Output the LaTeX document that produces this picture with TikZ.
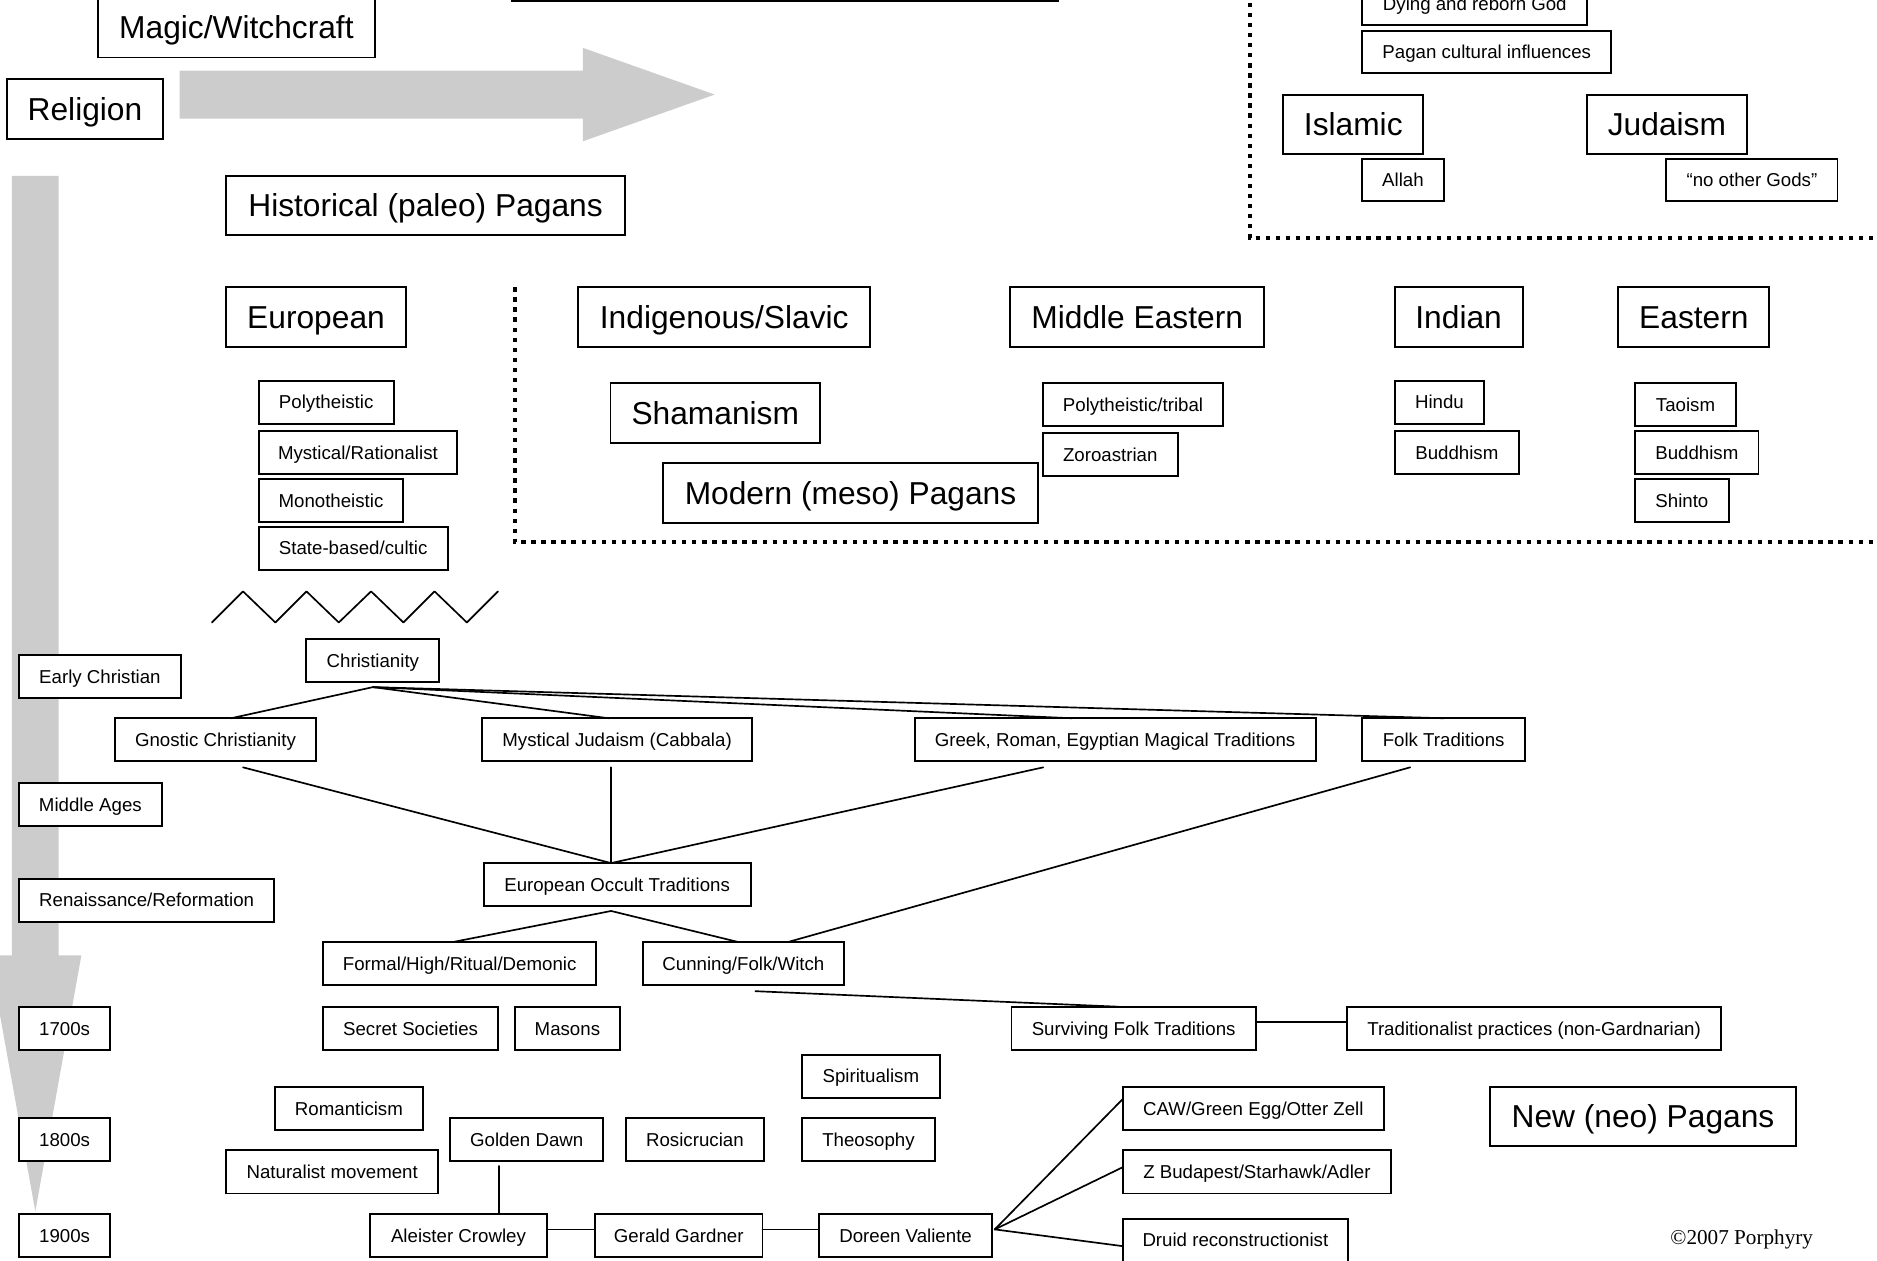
\documentclass[tikz,border=0pt]{standalone}
\usepackage{fontspec}
\setmainfont{Liberation Sans}
\newfontfamily\seriffont{Liberation Serif}
\begin{document}
\begin{tikzpicture}[x=1pt,y=-1pt,
  boxbase/.style={draw, line width=1.6pt, fill=white, inner sep=0pt, outer sep=0pt, align=center, text depth=0pt},
  sb/.style={boxbase, font=\fontsize{15.6}{18}\selectfont, text height=11.2pt},
  bb/.style={boxbase, font=\fontsize{26.5}{30}\selectfont, text height=19pt},
  conn/.style={line width=1.4pt, line cap=round, line join=round},
  dotline/.style={line width=3.6pt, dash pattern=on 3.6pt off 4.8pt},
  grayarrow/.style={fill=black!20, draw=none}]
\newcommand{\bx}[7]{%
  \pgfmathsetmacro{\bxw}{#5-#3}%
  \pgfmathsetmacro{\bxh}{#6-#4}%
  \node[#1, anchor=north west, minimum width=\bxw pt, minimum height=\bxh pt] (#2) at (#3,#4) {#7};}
\useasboundingbox (0,0) rectangle (1568,1053);
% gray arrows
\fill[grayarrow] (150,59) -- (487,59) -- (487,40) -- (597,79) -- (487,118) -- (487,99) -- (150,99) -- cycle;
\fill[grayarrow] (10,147) -- (49,147) -- (49,798) -- (68,798) -- (29.5,1012) -- (-9,798) -- (10,798) -- cycle;
% dotted frames
\draw[dotline] (1044,-6) -- (1044,199) -- (1575,199);
\draw[dotline] (430,240) -- (430,453) -- (1575,453);
% zigzag
\draw[conn] (177,520) -- (203,494) -- (230,520) -- (256,494) -- (283,520) -- (310,494) -- (337,520) -- (363,494) -- (390,520) -- (416,494);
% top rows
\bx{sb}{topbox}{428}{-40}{884}{1}{}
\bx{bb}{magic}{82}{-2}{313}{48}{Magic/Witchcraft}
\bx{bb}{rel}{6}{66}{136}{116}{Religion}
\bx{bb}{hist}{189}{147}{522}{196}{Historical (paleo) Pagans}
\bx{sb}{dying}{1138}{-15}{1326}{21}{Dying and reborn God}
\bx{sb}{pagan}{1138}{26}{1346}{61}{Pagan cultural influences}
\bx{bb}{isl}{1072}{79}{1189}{129}{Islamic}
\bx{bb}{jud}{1326}{79}{1459}{129}{Judaism}
\bx{sb}{allah}{1138}{133}{1206}{168}{Allah}
\bx{sb}{nog}{1392}{133}{1535}{168}{“no other Gods”}
\bx{bb}{euro}{189}{240}{339}{290}{European}
\bx{bb}{indig}{483}{240}{727}{290}{Indigenous/Slavic}
\bx{bb}{mide}{844}{240}{1056}{290}{Middle Eastern}
\bx{bb}{indian}{1165}{240}{1272}{290}{Indian}
\bx{bb}{eastern}{1352}{240}{1478}{290}{Eastern}
\bx{sb}{poly}{216}{318}{329}{354}{Polytheistic}
\bx{sb}{mystr}{216}{360}{382}{396}{Mystical/Rationalist}
\bx{sb}{mono}{216}{400}{337}{436}{Monotheistic}
\bx{sb}{state}{216}{440}{374}{476}{State-based/cultic}
\bx{bb}{sham}{510}{320}{685}{370}{Shamanism}
\bx{bb}{meso}{554}{387}{867}{437}{Modern (meso) Pagans}
\bx{sb}{polyt}{871}{320}{1022}{356}{Polytheistic/tribal}
\bx{sb}{zoro}{871}{362}{984}{398}{Zoroastrian}
\bx{sb}{hindu}{1165}{318}{1240}{354}{Hindu}
\bx{sb}{buddi}{1165}{360}{1269}{396}{Buddhism}
\bx{sb}{tao}{1366}{320}{1450}{356}{Taoism}
\bx{sb}{budde}{1366}{360}{1469}{396}{Buddhism}
\bx{sb}{shinto}{1366}{400}{1444}{436}{Shinto}
% lower part
\bx{sb}{early}{16}{547}{151}{583}{Early Christian}
\bx{sb}{chr}{256}{534}{367}{570}{Christianity}
\bx{sb}{gno}{96}{600}{264}{636}{Gnostic Christianity}
\bx{sb}{myj}{403}{600}{628}{636}{Mystical Judaism (Cabbala)}
\bx{sb}{grk}{764}{600}{1099}{636}{Greek, Roman, Egyptian Magical Traditions}
\bx{sb}{folk}{1138}{600}{1274}{636}{Folk Traditions}
\bx{sb}{mid}{16}{654}{135}{690}{Middle Ages}
\bx{sb}{ren}{16}{734}{229}{770}{Renaissance/Reformation}
\bx{sb}{eot}{404}{721}{627}{757}{European Occult Traditions}
\bx{sb}{formal}{270}{787}{498}{823}{Formal/High/Ritual/Demonic}
\bx{sb}{cun}{537}{787}{705}{823}{Cunning/Folk/Witch}
\bx{sb}{y17}{16}{841}{92}{877}{1700s}
\bx{sb}{secret}{270}{841}{416}{877}{Secret Societies}
\bx{sb}{masons}{430}{841}{518}{877}{Masons}
\bx{sb}{surv}{845}{841}{1049}{877}{Surviving Folk Traditions}
\bx{sb}{trad}{1125}{841}{1438}{877}{Traditionalist practices (non-Gardnarian)}
\bx{sb}{spirit}{670}{881}{785}{917}{Spiritualism}
\bx{sb}{roman}{230}{908}{353}{944}{Romanticism}
\bx{sb}{caw}{938}{908}{1156}{944}{CAW/Green Egg/Otter Zell}
\bx{bb}{neo}{1245}{908}{1500}{957}{New (neo) Pagans}
\bx{sb}{y18}{16}{934}{92}{970}{1800s}
\bx{sb}{gd}{376}{934}{504}{970}{Golden Dawn}
\bx{sb}{rosi}{523}{934}{638}{970}{Rosicrucian}
\bx{sb}{theo}{670}{934}{781}{970}{Theosophy}
\bx{sb}{nat}{189}{961}{366}{997}{Naturalist movement}
\bx{sb}{zb}{938}{961}{1162}{997}{Z Budapest/Starhawk/Adler}
\bx{sb}{y19}{16}{1014}{92}{1050}{1900s}
\bx{sb}{cro}{309}{1014}{457}{1050}{Aleister Crowley}
\bx{sb}{gar}{497}{1014}{637}{1050}{Gerald Gardner}
\bx{sb}{dor}{684}{1014}{829}{1050}{Doreen Valiente}
\bx{sb}{dru}{938}{1018}{1126}{1054}{Druid reconstructionist}
\node[font=\seriffont\fontsize{17.7}{20}\selectfont, inner sep=0pt] (copy) at (1455,1035) {©2007 Porphyry};
% connectors
\draw[conn] ([yshift=-4pt]chr.south) -- ([xshift=13pt]gno.north);
\draw[conn] ([yshift=-4pt]chr.south) -- ([xshift=-7pt]myj.north);
\draw[conn] ([yshift=-4pt]chr.south) -- ([xshift=-36pt]grk.north);
\draw[conn] ([yshift=-4pt]chr.south) -- (folk.north);
\draw[conn] ([xshift=23pt,yshift=-5pt]gno.south) -- ([xshift=-5pt]eot.north);
\draw[conn] ([xshift=-5pt,yshift=-5pt]myj.south) -- ([xshift=-5pt]eot.north);
\draw[conn] ([xshift=-60pt,yshift=-5pt]grk.south) -- ([xshift=-5pt]eot.north);
\draw[conn] ([xshift=-28pt,yshift=-5pt]folk.south) -- ([xshift=37pt]cun.north);
\draw[conn] ([xshift=-5pt,yshift=-4pt]eot.south) -- ([xshift=-6pt]formal.north);
\draw[conn] ([xshift=-5pt,yshift=-4pt]eot.south) -- ([xshift=-4pt]cun.north);
\draw[conn] ([xshift=10pt,yshift=-5pt]cun.south) -- ([xshift=-12pt]surv.north);
\draw[conn] ([yshift=5pt]surv.east) -- ([yshift=5pt]trad.west);
\draw[conn] ([xshift=-23pt,yshift=-4pt]gd.south) -- ([xshift=34pt]cro.north);
\draw[conn] ([yshift=5pt]cro.east) -- ([yshift=5pt]gar.west);
\draw[conn] ([yshift=5pt]gar.east) -- ([yshift=5pt]dor.west);
\draw[conn] ([xshift=2pt,yshift=5pt]dor.east) -- ([yshift=8pt]caw.west);
\draw[conn] ([xshift=2pt,yshift=5pt]dor.east) -- ([yshift=4pt]zb.west);
\draw[conn] ([xshift=2pt,yshift=5pt]dor.east) -- ([yshift=-5pt]dru.west);
\end{tikzpicture}
\end{document}
